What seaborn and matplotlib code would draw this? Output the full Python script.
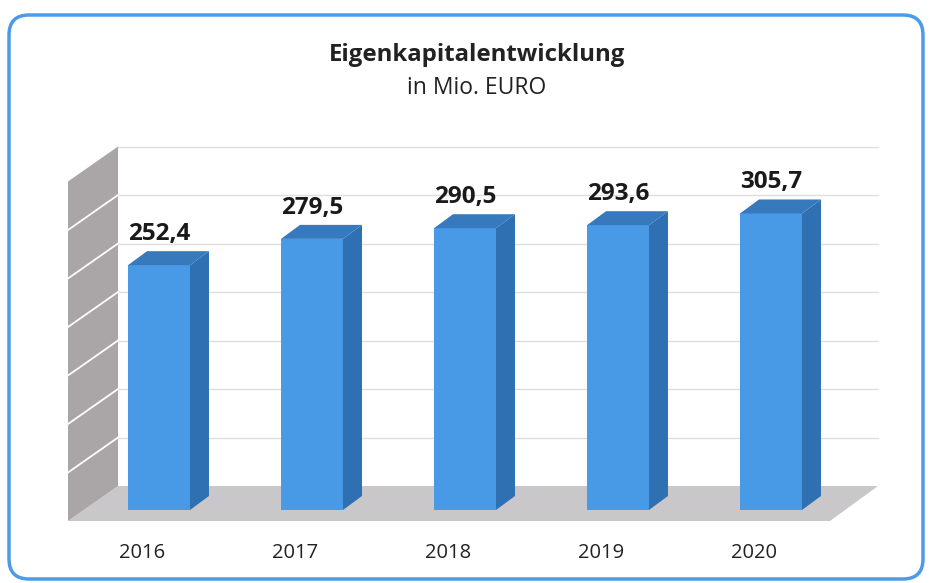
import numpy as np
import pandas as pd
import seaborn as sns
import matplotlib.pyplot as plt
from matplotlib.patches import Polygon, FancyBboxPatch

# data (Mio. EURO)
years = ['2016', '2017', '2018', '2019', '2020']
equity = [252.4, 279.5, 290.5, 293.6, 305.7]
labels = ['252,4', '279,5', '290,5', '293,6', '305,7']
grid_ticks = [0, 50, 100, 150, 200, 250, 300, 350]

df = pd.DataFrame({'year': years, 'equity': equity})

sns.set_theme(style='white')
plt.rcParams['font.family'] = ['Open Sans', 'DejaVu Sans']

# colours
front_c = '#489ae6'
side_c = '#2f70b2'
top_c = '#3679bd'
floor_c = '#c9c7c9'
wall_c = '#aaa6a8'
grid_c = '#dedede'

W, H = 931, 583
fig = plt.figure(figsize=(W / 100, H / 100), dpi=100)
fig.patch.set_facecolor('white')

# axes geometry in pixels (from top)
ax_l, ax_r, ax_t, ax_b = 60, 890, 140, 530
base_px = 510          # front baseline of bars
bar_px = 153           # pixel distance between categories
x0_px = 159            # centre of first bar
k = 0.97               # pixels per EUR million
ax = fig.add_axes([ax_l / W, (H - ax_b) / H, (ax_r - ax_l) / W, (ax_b - ax_t) / H])


def px2data(px_x, px_y):
    return (px_x - x0_px) / bar_px, (base_px - px_y) / k


# floor and walls
fl_fl = px2data(68, 521)
fl_fr = px2data(830, 521)
fl_bl = px2data(118, 486)
fl_br = px2data(878, 486)
top = grid_ticks[-1]

ax.add_patch(Polygon([fl_fl, fl_fr, fl_br, fl_bl], closed=True, fc=floor_c, ec='none', zorder=1))
ax.add_patch(Polygon([fl_fl, fl_bl, (fl_bl[0], fl_bl[1] + top), (fl_fl[0], fl_fl[1] + top)],
                     closed=True, fc=wall_c, ec='none', zorder=1))
for v in grid_ticks[1:-1]:
    ax.plot([fl_fl[0], fl_bl[0]], [fl_fl[1] + v, fl_bl[1] + v], color='white', lw=1.3, zorder=2)
    ax.plot([fl_bl[0], fl_br[0]], [fl_bl[1] + v, fl_br[1] + v], color=grid_c, lw=1, zorder=1)
ax.plot([fl_bl[0], fl_br[0]], [fl_bl[1] + top, fl_br[1] + top], color=grid_c, lw=1, zorder=1)

# bars (front faces)
sns.barplot(data=df, x='year', y='equity', color=front_c, width=0.405,
            saturation=1, ax=ax, zorder=3)
ax.set_xlim((ax_l - x0_px) / bar_px, (ax_r - x0_px) / bar_px)
ax.set_ylim(-(ax_b - base_px) / k, (base_px - ax_t) / k)
ax.axis('off')

dx = 19 / bar_px
dy = 14 / k
for p, lab in zip(ax.patches[2:], labels):
    p.set_edgecolor('none')
    x0 = p.get_x()
    w = p.get_width()
    h = p.get_height()
    ax.add_patch(Polygon([(x0 + w, 0), (x0 + w + dx, dy), (x0 + w + dx, h + dy), (x0 + w, h)],
                         closed=True, fc=side_c, ec='none', zorder=3))
    ax.add_patch(Polygon([(x0, h), (x0 + dx, h + dy), (x0 + w + dx, h + dy), (x0 + w, h)],
                         closed=True, fc=top_c, ec='none', zorder=3))
    ax.text(x0 + w / 2, h + 19 / k, lab, ha='center', va='bottom',
            fontsize=17.5, fontweight='bold', color='#1a1a1a', zorder=4)

# year labels under the floor
for i, yr in enumerate(years):
    ax.text(i - 17 / bar_px, -(553 - base_px) / k, yr, ha='center', va='center',
            fontsize=14.5, color='#222222', clip_on=False)

# title
fig.text(477 / W, 1 - 55 / H, 'Eigenkapitalentwicklung', ha='center', va='center',
         fontsize=17.3, fontweight='bold', color='#222222')
fig.text(477 / W, 1 - 88 / H, 'in Mio. EURO', ha='center', va='center',
         fontsize=16.5, color='#222222')

# rounded blue frame
frame = FancyBboxPatch((9, 4), 914, 564, boxstyle='round,pad=0,rounding_size=20',
                       transform=None, fc='none', ec='#4d9be6', lw=2.5)
fig.patches.append(frame)

fig.savefig('out.png', dpi=100)
